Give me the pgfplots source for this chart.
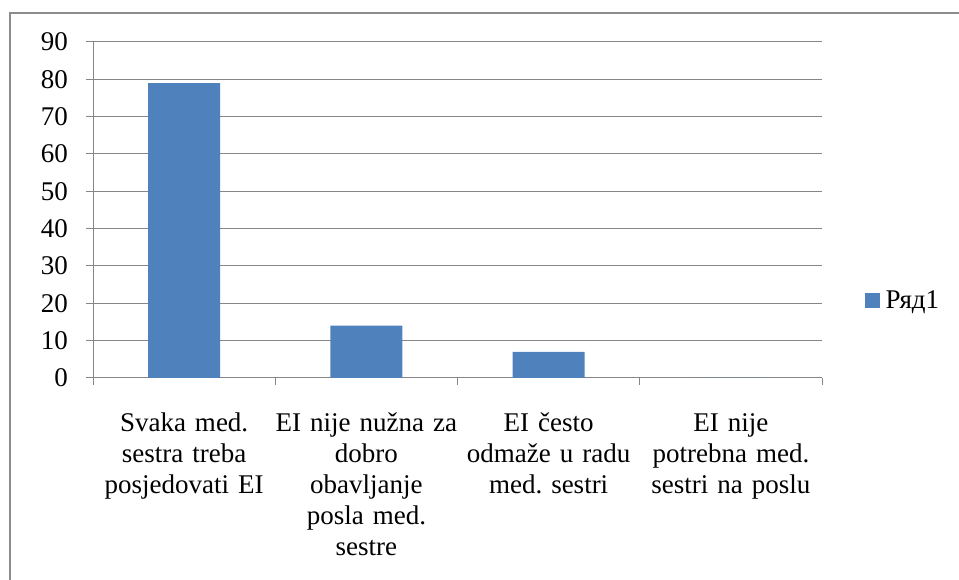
\documentclass[border=0pt]{standalone}
\usepackage{fontspec}
\setmainfont{Liberation Serif}
\usepackage{pgfplots}
\pgfplotsset{compat=1.18}
\definecolor{barblue}{HTML}{4F81BD}
\definecolor{gridgray}{HTML}{868686}
\definecolor{framegray}{HTML}{8C8C8C}
\frenchspacing
\begin{document}
\begin{tikzpicture}[x=1bp,y=1bp]
\useasboundingbox (0,0) rectangle (959,580);
\draw[framegray, line width=2.5bp] (10,0) -- (10,567) -- (959,567);
\begin{axis}[
  at={(93bp,202bp)}, anchor=south west,
  width=729bp, height=336bp, scale only axis,
  xmin=-0.5, xmax=3.5, ymin=0, ymax=90,
  ytick={0,10,...,90},
  xtick={0,1,2,3},
  xticklabels={{Svaka med.\\sestra treba\\posjedovati EI},
               {EI nije nužna za\\dobro\\obavljanje\\posla med.\\sestre},
               {EI često\\odmaže u radu\\med. sestri},
               {EI nije\\potrebna med.\\sestri na poslu}},
  minor xtick={-0.5,0.5,1.5,2.5,3.5},
  axis x line*=bottom, axis y line*=left,
  axis line style={gridgray, line width=1bp, -},
  tick style={gridgray, line width=1bp},
  major x tick style={draw=none},
  tick align=outside,
  major tick length=7bp, minor tick length=7bp,
  ymajorgrids, grid style={gridgray, line width=1bp},
  ybar, bar width=72bp,
  xticklabel style={align=center, text width=185bp, font=\fontsize{27bp}{31bp}\selectfont, inner sep=0pt, yshift=-28bp},
  yticklabel style={font=\fontsize{27bp}{31bp}\selectfont, /pgf/number format/assume math mode=true, inner sep=0pt, xshift=-18bp},
  legend style={at={(1.059,0.232)}, anchor=west, draw=none, fill=none,
    font=\fontsize{27bp}{31bp}\selectfont, inner sep=0pt, outer sep=0pt, nodes={inner sep=2.5bp}},
]
\addplot[fill=barblue, draw=none,
  legend image code/.code={\fill[barblue] (0bp,-7.5bp) rectangle (15bp,7.5bp);}]
  coordinates {(0,79) (1,14) (2,7) (3,0)};
\addlegendentry{\hspace{3bp}Ряд1}
\end{axis}
\end{tikzpicture}
\end{document}
